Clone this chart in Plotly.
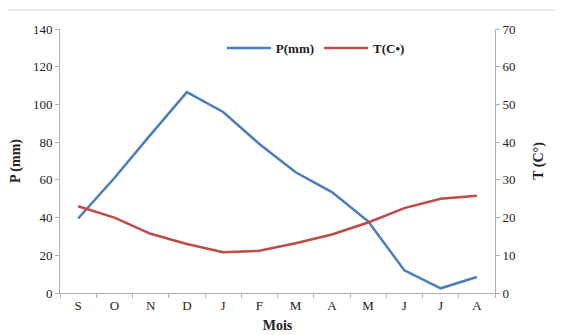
import plotly.graph_objects as go

months = ["S", "O", "N", "D", "J", "F", "M", "A", "M ", "J ", "J  ", "A "]
month_labels = ["S", "O", "N", "D", "J", "F", "M", "A", "M", "J", "J", "A"]
precip = [39.5, 61, 84, 106.5, 96, 79, 64, 53.5, 38, 12, 2.5, 8.5]
temp = [23, 20, 15.7, 13, 10.8, 11.2, 13.2, 15.5, 18.7, 22.5, 25, 25.8]

font_family = "Liberation Serif, Times New Roman, serif"

fig = go.Figure()
fig.add_trace(go.Scatter(x=months, y=precip, mode="lines", name="<b>P(mm)</b>",
                         line=dict(color="#4a7ebb", width=2.5), yaxis="y"))
fig.add_trace(go.Scatter(x=months, y=temp, mode="lines", name="<b>T(C•)</b>",
                         line=dict(color="#be4b48", width=2.5), yaxis="y2"))

axis_common = dict(showgrid=False, zeroline=False, showline=True, linecolor="#b0b0b0",
                   linewidth=1, ticks="outside", tickcolor="#b0b0b0", ticklen=4,
                   automargin=False,
                   tickfont=dict(family=font_family, size=13, color="#222"))

# page body has an 8px default margin; compensate in figure size/margins
fig.update_layout(
    width=556, height=327,
    margin=dict(l=52, r=69, t=21, b=42),
    paper_bgcolor="white", plot_bgcolor="white",
    font=dict(family=font_family, size=13, color="#222"),
    showlegend=True,
    legend=dict(orientation="h", x=0.372, y=0.928, xanchor="left", yanchor="middle",
                font=dict(family=font_family, size=13, color="#222"),
                bgcolor="rgba(0,0,0,0)", itemwidth=44),
    xaxis=dict(**axis_common, type="category", tickson="boundaries",
               range=[-0.5, 11.5],
               tickvals=months, ticktext=month_labels,
               title=dict(text="<b>Mois</b>", standoff=8,
                          font=dict(family=font_family, size=14, color="#222"))),
    yaxis=dict(**axis_common, range=[0, 140], dtick=20,
               title=dict(text="<b>P (mm)</b>", standoff=12,
                          font=dict(family=font_family, size=14, color="#222"))),
    yaxis2=dict(**axis_common, range=[0, 70], dtick=10, overlaying="y", side="right",
                title=dict(text="<b>T (C°)</b>", standoff=18,
                           font=dict(family=font_family, size=14, color="#222"))),
)

fig.add_shape(type="line", xref="paper", yref="paper", x0=-0.12, x1=1.16,
              y0=1.072, y1=1.072, line=dict(color="#d8d8d8", width=1))

fig.write_html("out.html")
